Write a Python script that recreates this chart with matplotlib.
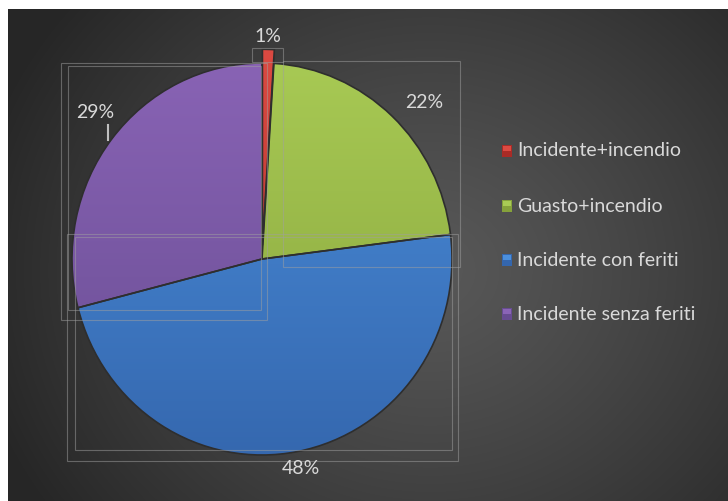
import numpy as np
import matplotlib
matplotlib.use("Agg")
import matplotlib.pyplot as plt
from matplotlib.colors import to_rgb
from matplotlib.patches import Rectangle

# data
categories = ["Incidente+incendio", "Guasto+incendio", "Incidente con feriti", "Incidente senza feriti"]
shares = [1, 22, 48, 29]
pct_labels = ["1%", "22%", "48%", "29%"]

top_colors = ["#dc4a42", "#a9cb55", "#4b8fdc", "#8a64b6"]
bottom_colors = ["#a92b26", "#86a23b", "#3466ad", "#674c91"]

W, H = 728, 501
fig = plt.figure(figsize=(W / 100, H / 100), dpi=100, facecolor="white")

# background in pixel coordinates
bg = fig.add_axes([0, 0, 1, 1])
bg.set_xlim(0, W)
bg.set_ylim(H, 0)
bg.axis("off")
bg.set_zorder(0)

yy, xx = np.mgrid[0:H, 0:W]
dist = np.sqrt((xx - 430) ** 2 + ((yy - 270) / 0.9) ** 2)
t = np.clip(dist / 470, 0, 1) ** 1.2
inner = np.array(to_rgb("#585858"))
outer = np.array(to_rgb("#262626"))
img = inner[None, None, :] * (1 - t[..., None]) + outer[None, None, :] * t[..., None]
img[:9, :, :] = 1.0
img[:, :8, :] = 1.0
bg.imshow(img, extent=(0, W, H, 0), aspect="auto", interpolation="bilinear")

# pie axes: 1 unit = 190 px horizontally, 196 px vertically
cx, cy, rx, ry = 262, 259, 190, 196
lim = 1.2
pax = fig.add_axes([(cx - lim * rx) / W, (H - cy - lim * ry) / H,
                    2 * lim * rx / W, 2 * lim * ry / H])
pax.set_zorder(1)
wedges, _ = pax.pie(shares, startangle=90, counterclock=False,
                    explode=[0.07, 0, 0, 0], radius=1,
                    wedgeprops=dict(facecolor="none", edgecolor="#2e2e2e", linewidth=1.2, zorder=3))
for w, c1, c2 in zip(wedges, top_colors, bottom_colors):
    a = np.array(to_rgb(c1))
    b = np.array(to_rgb(c2))
    s = np.linspace(0, 1, 200)[:, None]
    grad = (a * (1 - s) + b * s)[:, None, :]
    im = pax.imshow(grad, extent=(-1.1, 1.1, -1.1, 1.1), aspect="auto", zorder=2,
                    interpolation="bilinear")
    im.set_clip_path(w)
pax.set_xlim(-lim, lim)
pax.set_ylim(-lim, lim)
pax.set_aspect("auto")
pax.axis("off")

overlay = fig.add_axes([0, 0, 1, 1], facecolor="none")
overlay.set_xlim(0, W)
overlay.set_ylim(H, 0)
overlay.axis("off")
overlay.set_zorder(2)

# leftover label boxes
boxes = [(252, 48, 283, 62), (61, 63, 267, 320), (68, 66, 261, 310),
         (283, 61, 460, 267), (67, 234, 458, 461), (75, 237, 452, 450)]
for x0, y0, x1, y1 in boxes:
    overlay.add_patch(Rectangle((x0, y0), x1 - x0, y1 - y0, fill=False,
                                edgecolor="#a0a0a0", linewidth=0.8, alpha=0.5))
overlay.plot([108, 108], [125, 140], color="#bfbfbf", linewidth=1.5)

# percent labels
label_pos = [(268, 36), (424, 102), (301, 468), (95, 112)]
for txt, (x, y) in zip(pct_labels, label_pos):
    overlay.text(x, y, txt, color="#d9d9d9", fontsize=14, family="Lato",
                 ha="center", va="center")

# legend
leg_y = [151, 206, 260, 314]
for name, c1, c2, y in zip(categories, top_colors, bottom_colors, leg_y):
    overlay.add_patch(Rectangle((502, y - 6), 10, 12, facecolor=c2, edgecolor="none"))
    overlay.add_patch(Rectangle((503, y - 5), 8, 5, facecolor=c1, edgecolor="none"))
    overlay.text(517, y, name, color="#d9d9d9", fontsize=14, family="Lato",
                 ha="left", va="center")

fig.savefig("out.png", dpi=100)
